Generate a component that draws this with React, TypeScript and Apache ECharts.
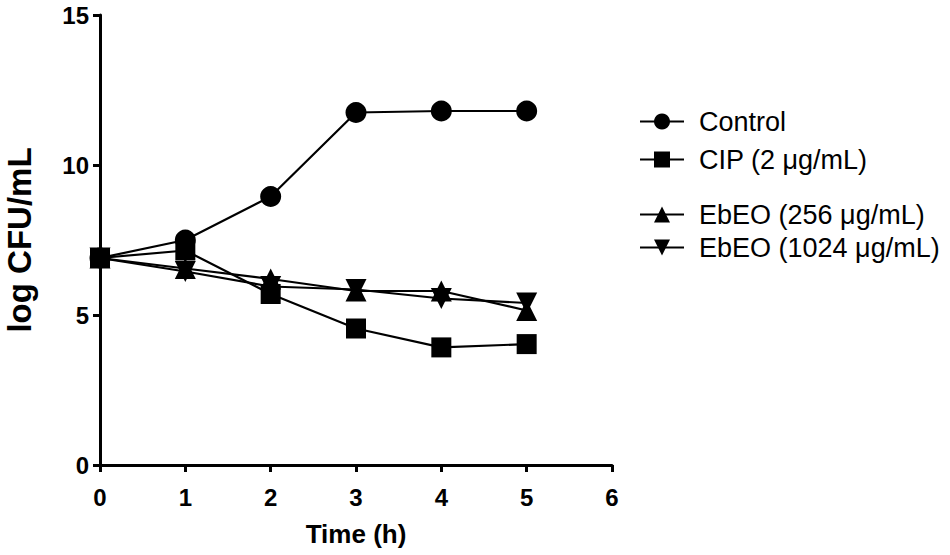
import React, { useEffect, useRef } from "react";
import * as echarts from "echarts";

const times = [0, 1, 2, 3, 4, 5];
const seriesNames = ["Control", "CIP (2 μg/mL)", "EbEO (256 μg/mL)", "EbEO (1024 μg/mL)"];
const control = [6.9, 7.5, 8.95, 11.75, 11.8, 11.8];
const cip = [6.9, 7.15, 5.7, 4.55, 3.92, 4.03];
const ebeo256 = [6.9, 6.55, 6.2, 5.8, 5.8, 5.15];
const ebeo1024 = [6.9, 6.45, 5.95, 5.85, 5.55, 5.4];
const symbols = ["circle", "rect", "triangle", "path://M0,0 L10,0 L5,9 Z"];
const yTicks = [0, 5, 10, 15];
const xTicks = [0, 1, 2, 3, 4, 5, 6];

export default function App() {
  const ref = useRef<HTMLDivElement>(null);
  useEffect(() => {
    if (!ref.current) return;
    const chart = echarts.init(ref.current, null, { renderer: "svg" });
    const all = [control, cip, ebeo256, ebeo1024];
    const font = "Liberation Sans, Arial, sans-serif";
    const series = all.map((vals, i) => ({
      name: seriesNames[i],
      type: "line",
      data: times.map((t, j) => [t, vals[j]]),
      symbol: symbols[i],
      symbolSize: i === 1 ? 20 : 21,
      lineStyle: { color: "#000", width: 2.2 },
      itemStyle: { color: "#000" },
      z: 10 - i,
    }));
    const legendText = { fontFamily: font, fontSize: 27, color: "#000", padding: [0, 0, 0, 10] };
    chart.setOption({
      animation: false,
      backgroundColor: "#fff",
      grid: { left: 100, top: 15, width: 512, height: 450, containLabel: false, outerBoundsMode: "none" },
      legend: [
        {
          data: [seriesNames[0], seriesNames[1]],
          orient: "vertical",
          left: 634,
          top: 103,
          itemWidth: 44,
          itemHeight: 20,
          itemGap: 11,
          textStyle: legendText,
        },
        {
          data: [seriesNames[2], seriesNames[3]],
          orient: "vertical",
          left: 634,
          top: 196,
          itemWidth: 44,
          itemHeight: 20,
          itemGap: 6,
          textStyle: legendText,
        },
      ],
      xAxis: {
        type: "value",
        min: xTicks[0],
        max: xTicks[xTicks.length - 1],
        interval: 1,
        name: "Time (h)",
        nameLocation: "middle",
        nameGap: 56,
        nameTextStyle: { fontFamily: font, fontSize: 26, fontWeight: "bold", color: "#000" },
        axisLine: { lineStyle: { color: "#000", width: 3 } },
        axisTick: { length: 7, lineStyle: { color: "#000", width: 3 } },
        axisLabel: { fontFamily: font, fontSize: 24, fontWeight: "bold", color: "#000", margin: 20 },
        splitLine: { show: false },
      },
      yAxis: {
        type: "value",
        min: yTicks[0],
        max: yTicks[yTicks.length - 1],
        interval: 5,
        name: "log CFU/mL",
        nameLocation: "middle",
        nameGap: 64,
        nameTextStyle: { fontFamily: font, fontSize: 33, fontWeight: "bold", color: "#000" },
        axisLine: { lineStyle: { color: "#000", width: 3 } },
        axisTick: { length: 7, lineStyle: { color: "#000", width: 3 } },
        axisLabel: { fontFamily: font, fontSize: 24, fontWeight: "bold", color: "#000", margin: 11 },
        splitLine: { show: false },
      },
      series,
    });
    return () => chart.dispose();
  }, []);
  return (
    <div
      ref={ref}
      style={{ position: "fixed", left: 0, top: 0, width: 950, height: 555, background: "#fff" }}
    />
  );
}
